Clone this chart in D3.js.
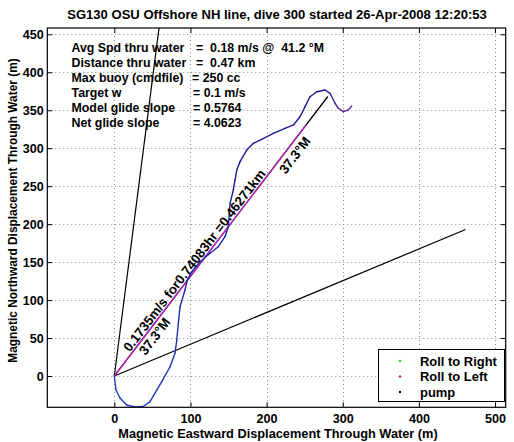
<!DOCTYPE html>
<html><head><meta charset="utf-8">
<script src="https://cdn.jsdelivr.net/npm/d3@7"></script>
<style>
html,body{margin:0;padding:0;background:#fff;}
text{font-family:"Liberation Sans",Arial,Helvetica,sans-serif;font-weight:bold;}
</style></head>
<body>
<svg id="chart" width="514" height="442"></svg>
<script>
// ---- data ----
const title = "SG130 OSU Offshore NH line, dive 300 started 26-Apr-2008 12:20:53";
const xLabel = "Magnetic Eastward Displacement Through Water (m)";
const yLabel = "Magnetic Northward Displacement Through Water (m)";
const xTicks = [0, 100, 200, 300, 400, 500];
const yTicks = [0, 50, 100, 150, 200, 250, 300, 350, 400, 450];
const xDomain = [-88, 514];
const yDomain = [-41.2, 458.3];
// glider track through water (m east, m north)
const trackX = [0, 2.2, 7.5, 16.3, 27.2, 38.1, 46.9, 62.3, 73.2, 79.7, 82.0, 84.1, 86.3, 92.8, 95.9, 101.7, 112.6, 125.7, 136.6, 145.4, 149.7, 151.0, 152.0, 156.3, 158.5, 160.8, 165.1, 173.9, 182.6, 193.6, 208.8, 224.2, 235.1, 243.9, 250.5, 257.0, 265.8, 276.7, 283.3, 289.9, 294.2, 300.8, 307.3, 311.8];
const trackY = [0, -18.4, -29.0, -38.2, -40.8, -40.2, -33.8, -7.5, 12.2, 29.9, 47.4, 69.4, 91.3, 113.3, 126.4, 137.4, 150.5, 161.6, 170.3, 183.5, 196.6, 214.1, 227.4, 245.0, 258.1, 271.3, 282.2, 297.6, 306.5, 311.7, 319.6, 326.2, 330.6, 341.5, 354.7, 367.8, 374.4, 376.7, 372.3, 359.2, 352.6, 348.1, 350.3, 355.6];
// heading / sector lines (deg magnetic, m)
const headingDeg = 37.3;
const sectorHalfDeg = 30;
const sectorLen = 500;
const netDistM = 462.71;
const infoLabels = ["Avg Spd thru water", "Distance thru water", "Max buoy (cmdfile)", "Target w", "Model glide slope", "Net glide slope"];
const infoValues = ["=  0.18 m/s @  41.2 \u00B0M", "=  0.47 km", "= 250 cc", "= 0.1 m/s", "= 0.5764", "= 4.0623"];
const lineLabel = "0.1735m/s for0.74083hr =0.46271km";
const headingLabel = "37.3\u00B0M";
const legendNames = ["Roll to Right", "Roll to Left", "pump"];
const legendColors = ["#22dd22", "#dd2222", "#000000"];

// ---- layout ----
const svg = d3.select("#chart");
const L = 47.3, R = 505.7, T = 28, B = 407.3;
const x = d3.scaleLinear().domain(xDomain).range([L, R]);
const y = d3.scaleLinear().domain(yDomain).range([B, T]);

// scale a text's font-size so it spans the given pixel width
function fit(sel, w) {
  sel.attr("font-size", 12);
  const cur = sel.node().getComputedTextLength();
  const fs = 12 * w / cur;
  sel.attr("font-size", fs);
  return fs;
}

svg.append("defs").append("clipPath").attr("id", "clip")
  .append("rect").attr("x", L).attr("y", T).attr("width", R - L).attr("height", B - T);

// grid
const grid = svg.append("g").attr("stroke", "#8a8a8a").attr("stroke-width", 1).attr("stroke-dasharray", "1,3");
grid.selectAll(".gx").data(xTicks).join("line")
  .attr("x1", d => Math.round(x(d)) + 0.5).attr("x2", d => Math.round(x(d)) + 0.5)
  .attr("y1", T).attr("y2", B);
grid.selectAll(".gy").data(yTicks).join("line")
  .attr("y1", d => Math.round(y(d)) + 0.5).attr("y2", d => Math.round(y(d)) + 0.5)
  .attr("x1", L).attr("x2", R);

const plot = svg.append("g").attr("clip-path", "url(#clip)");
const rad = Math.PI / 180;
const dirPt = (deg, len) => [len * Math.sin(deg * rad), len * Math.cos(deg * rad)];
const lineGen = d3.line().x(d => x(d[0])).y(d => y(d[1]));

// sector lines
[headingDeg - sectorHalfDeg, headingDeg + sectorHalfDeg].forEach(a => {
  plot.append("path").attr("d", lineGen([[0, 0], dirPt(a, sectorLen)]))
    .attr("stroke", "#000").attr("stroke-width", 1.2).attr("fill", "none");
});
// heading line (black + magenta)
plot.append("path").attr("d", lineGen([[0, 0], dirPt(headingDeg, netDistM)]))
  .attr("stroke", "#000").attr("stroke-width", 1.3).attr("fill", "none");
plot.append("path").attr("d", lineGen([[0, 0], dirPt(headingDeg, netDistM * 0.9)]))
  .attr("stroke", "#d020d0").attr("stroke-width", 1.2).attr("fill", "none");

// track
const track = trackX.map((v, i) => [v, trackY[i]]);
const col = d3.scaleLinear().domain([0, 0.6, 0.85, 1]).range(["#2040c0", "#1a1a9a", "#1a1a90", "#6a2a9a"]);
for (let i = 0; i < track.length - 1; i++) {
  plot.append("path").attr("d", lineGen([track[i], track[i + 1]]))
    .attr("stroke", col(i / (track.length - 2))).attr("stroke-width", 1.4)
    .attr("stroke-linecap", "round").attr("fill", "none");
}

// rotated labels along heading line
const p0 = [x(0), y(0)];
const pe = dirPt(headingDeg, 100);
const ang = Math.atan2(y(pe[1]) - y(0), x(pe[0]) - x(0)) / rad;
const ux = Math.cos(ang * rad), uy = Math.sin(ang * rad);
function alongText(txt, dist, off, anchor) {
  return svg.append("text").attr("transform", `translate(${p0[0] + ux * dist},${p0[1] + uy * dist}) rotate(${ang})`)
    .attr("dy", off).attr("text-anchor", anchor).attr("font-size", 12).attr("fill", "#000").text(txt);
}
const mainLbl = alongText(lineLabel, 28, -2, "start");
const alongFs = fit(mainLbl, 225);
alongText(headingLabel, 56, 12.5, "middle").attr("font-size", alongFs);
alongText(headingLabel, 285, 14, "middle").attr("font-size", alongFs);

// info text
const info = svg.append("g").attr("fill", "#000");
const valX = [196, 196, 192, 193, 193, 193];
const infoSel = [];
infoLabels.forEach((t, i) => {
  infoSel.push(info.append("text").attr("x", 71.5).attr("y", 52 + i * 15).text(t));
  infoSel.push(info.append("text").attr("x", valX[i]).attr("y", 52 + i * 15).attr("xml:space", "preserve").text(infoValues[i]));
});
const infoFs = fit(infoSel[0], 113);
infoSel.forEach(s => s.attr("font-size", infoFs));

// axes
const ax = svg.append("g");
const axB = ax.append("g").attr("transform", `translate(0,${B})`)
  .call(d3.axisBottom(x).tickValues(xTicks).tickSizeInner(-5).tickSizeOuter(0).tickPadding(6.5).tickFormat(d3.format("d")));
const axL = ax.append("g").attr("transform", `translate(${L},0)`)
  .call(d3.axisLeft(y).tickValues(yTicks).tickSizeInner(-5).tickSizeOuter(0).tickPadding(3.5).tickFormat(d3.format("d")));
const axT = ax.append("g").attr("transform", `translate(0,${T})`)
  .call(d3.axisTop(x).tickValues(xTicks).tickSizeInner(-5).tickSizeOuter(0).tickFormat(""));
const axR = ax.append("g").attr("transform", `translate(${R},0)`)
  .call(d3.axisRight(y).tickValues(yTicks).tickSizeInner(-5).tickSizeOuter(0).tickFormat(""));
[axB, axL, axT, axR].forEach(g => {
  g.select(".domain").remove();
  g.selectAll("text").attr("font-family", "Liberation Sans, Arial, sans-serif").attr("font-weight", "bold").attr("font-size", 12.6).attr("fill", "#000");
  g.selectAll("line").attr("stroke", "#000");
});
svg.append("rect").attr("x", L).attr("y", T).attr("width", R - L).attr("height", B - T)
  .attr("fill", "none").attr("stroke", "#000").attr("stroke-width", 1.2);

// title & axis labels
fit(svg.append("text").attr("x", 277).attr("y", 18.5).attr("text-anchor", "middle").text(title), 420);
fit(svg.append("text").attr("x", 278).attr("y", 438).attr("text-anchor", "middle").text(xLabel), 320);
fit(svg.append("text").attr("transform", `translate(17,210.5) rotate(-90)`).attr("text-anchor", "middle").text(yLabel), 305);

// legend
const lg = svg.append("g");
lg.append("rect").attr("x", 378.5).attr("y", 349.5).attr("width", 126).attr("height", 52)
  .attr("fill", "#fff").attr("stroke", "#000").attr("stroke-width", 1);
const legSel = [];
legendNames.forEach((n, i) => {
  const cy = 361 + i * 15.5;
  lg.append("circle").attr("cx", 400).attr("cy", cy).attr("r", 1.2).attr("fill", legendColors[i]);
  legSel.push(lg.append("text").attr("x", 420).attr("y", cy + 4.5).text(n));
});
const legFs = fit(legSel[0], 77);
legSel.forEach(s => s.attr("font-size", legFs));
</script>
</body></html>
